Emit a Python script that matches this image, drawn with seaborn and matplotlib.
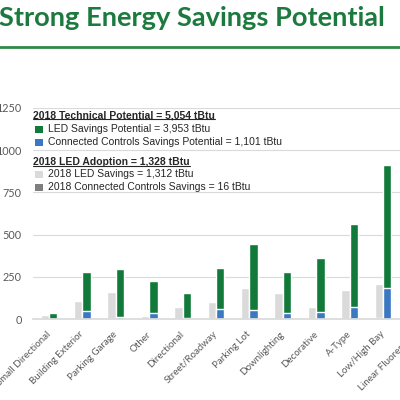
import numpy as np
import pandas as pd
import matplotlib
matplotlib.use("Agg")
import matplotlib.pyplot as plt
from matplotlib.lines import Line2D
from matplotlib.patches import Rectangle
import seaborn as sns

# Data (tBtu). Linear Fluorescent is cut off at the
# right edge, its values are the remainder of the legend totals.
categories = ["Small Directional", "Building Exterior", "Parking Garage",
              "Other", "Directional", "Street/Roadway", "Parking Lot",
              "Downlighting", "Decorative", "A-Type", "Low/High Bay",
              "Linear Fluorescent"]
led_potential = [37, 226, 282, 191, 151, 244, 392, 242, 317, 493, 727, 651]
cc_potential = [0, 50, 14, 37, 5, 58, 54, 34, 44, 70, 183, 552]
led_2018 = [24, 103, 159, 18, 70, 97, 184, 153, 73, 167, 202, 62]
cc_2018 = [0, 1, 1, 0, 1, 1, 2, 1, 1, 2, 3, 3]
yticks = [0, 250, 500, 750, 1000, 1250]

GREEN = "#117a3a"
BLUE = "#3b78c2"
LGRAY = "#dadada"
DGRAY = "#7f7f7f"
TITLE_GREEN = "#1c7a3e"

sns.set_theme(style="white")
plt.rcParams["font.family"] = ["Liberation Sans", "DejaVu Sans"]

# long-form tables: full stack height, then the bottom segment on top of it
totals = pd.DataFrame({
    "category": categories * 2,
    "group": ["adoption"] * len(categories) + ["potential"] * len(categories),
    "value": list(np.add(led_2018, cc_2018)) + list(np.add(led_potential, cc_potential)),
})
bases = pd.DataFrame({
    "category": categories * 2,
    "group": ["adoption"] * len(categories) + ["potential"] * len(categories),
    "value": cc_2018 + cc_potential,
})

fig = plt.figure(figsize=(4, 4), dpi=100)
ax = fig.add_axes([0.0825, 0.2025, 12 * 33.4 / 400, 0.5275])

sns.barplot(data=totals, x="category", y="value", hue="group",
            palette={"adoption": LGRAY, "potential": GREEN},
            width=0.5, saturation=1, legend=False, ax=ax)
sns.barplot(data=bases, x="category", y="value", hue="group",
            palette={"adoption": DGRAY, "potential": BLUE},
            width=0.5, saturation=1, legend=False, ax=ax)

ax.set_xlim(-0.48, 11.52)
ax.set_ylim(0, 1250)
ax.set_yticks(yticks)
ax.set_xlabel("")
ax.set_ylabel("")
ax.yaxis.grid(True, color=LGRAY, lw=0.8)
ax.set_axisbelow(True)
for s in ["top", "right", "left"]:
    ax.spines[s].set_visible(False)
ax.spines["bottom"].set_color(LGRAY)
ax.tick_params(axis="both", length=0)
ax.tick_params(axis="y", pad=8, labelsize=7.8, labelcolor="#595959")
ax.tick_params(axis="x", pad=10, labelsize=7, labelcolor="#595959")
for lab in ax.get_yticklabels():
    lab.set_fontfamily(["Lato", "DejaVu Sans"])
for lab in ax.get_xticklabels():
    lab.set_fontfamily(["Lato", "DejaVu Sans"])
    lab.set_rotation(45)
    lab.set_ha("right")
    lab.set_va("center")
    lab.set_rotation_mode("anchor")

# title and rule
fig.text(0.9625, 0.955, "Strong Energy Savings Potential", ha="right",
         va="center", fontsize=19.6, fontweight="bold", color=TITLE_GREEN,
         family=["Lato", "DejaVu Sans"])
fig.add_artist(Line2D([0, 1], [1 - 47 / 400] * 2, color="#2f8a47", lw=2))

# legend drawn as text over the plot
legend_rows = [
    ("header", "2018 Technical Potential = 5,054 tBtu", None, 115),
    ("item", "LED Savings Potential = 3,953 tBtu", GREEN, 129),
    ("item", "Connected Controls Savings Potential = 1,101 tBtu", BLUE, 142),
    ("header", "2018 LED Adoption = 1,328 tBtu", None, 162),
    ("item", "2018 LED Savings = 1,312 tBtu", LGRAY, 174),
    ("item", "2018 Connected Controls Savings = 16 tBtu", DGRAY, 187),
]
headers = []
for kind, txt, col, ypx in legend_rows:
    y = 1 - ypx / 400
    if kind == "header":
        t = fig.text(33 / 400, y, txt, ha="left", va="center", fontsize=7.5,
                     fontweight="bold", color="#262626")
        headers.append(t)
    else:
        fig.add_artist(Rectangle((35 / 400, y - 3.5 / 400), 8 / 400, 7 / 400,
                                 transform=fig.transFigure, color=col, lw=0))
        fig.text(48 / 400, y, txt, ha="left", va="center", fontsize=7.5,
                 color="#262626")

fig.canvas.draw()
r = fig.canvas.get_renderer()
for t in headers:
    bb = t.get_window_extent(r).transformed(fig.transFigure.inverted())
    fig.add_artist(Line2D([bb.x0, bb.x1], [bb.y0 + 0.002] * 2,
                          color="#262626", lw=0.8))

fig.savefig("out.png", dpi=100)
